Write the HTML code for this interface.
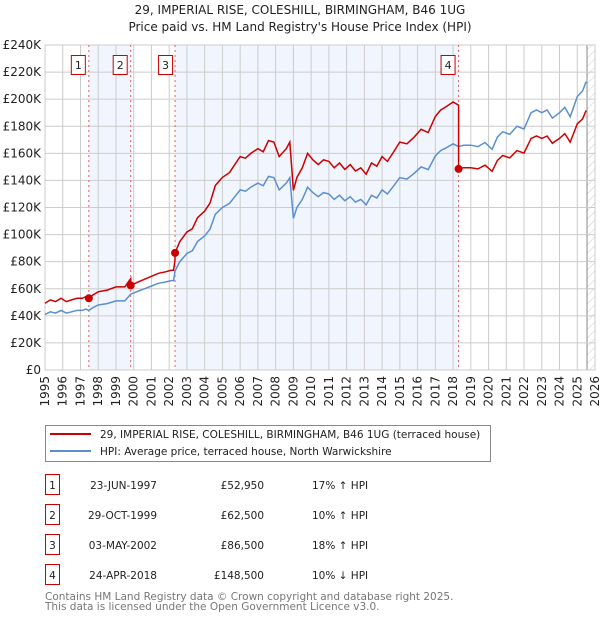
<!DOCTYPE html>
<html><head><meta charset="utf-8"><style>
body{margin:0;background:#fff;width:600px;height:620px;overflow:hidden;font-family:"DejaVu Sans","Liberation Sans",sans-serif;}
svg{display:block}
</style></head><body>
<svg id="c" width="600" height="620">
<defs><pattern id="hatch" width="6" height="6" patternUnits="userSpaceOnUse" patternTransform="rotate(45)"><line x1="0" y1="0" x2="0" y2="6" stroke="#ccc" stroke-width="1"/></pattern></defs>
<text x="300" y="14" text-anchor="middle" font-size="12" fill="#222">29, IMPERIAL RISE, COLESHILL, BIRMINGHAM, B46 1UG</text>
<text x="300" y="31" text-anchor="middle" font-size="12" fill="#222">Price paid vs. HM Land Registry's House Price Index (HPI)</text>
<g id="plot"></g>
<g>
<rect x="45.5" y="425.5" width="445" height="36" fill="#fff" stroke="#888"/>
<line x1="50" y1="434" x2="91" y2="434" stroke="#cc0000" stroke-width="2"/>
<text x="100" y="438" font-size="10.5" fill="#222">29, IMPERIAL RISE, COLESHILL, BIRMINGHAM, B46 1UG (terraced house)</text>
<line x1="50" y1="451" x2="91" y2="451" stroke="#5b8fd0" stroke-width="2"/>
<text x="100" y="455" font-size="10.5" fill="#222">HPI: Average price, terraced house, North Warwickshire</text>
</g>
<g id="table" font-size="10.5" fill="#222"></g>
<text x="45" y="600" font-size="10.5" fill="#777">Contains HM Land Registry data © Crown copyright and database right 2025.</text>
<text x="45" y="610" font-size="10.5" fill="#777">This data is licensed under the Open Government Licence v3.0.</text>
</svg>
<script>
const hpiDates=[1995,1995.3,1995.6,1995.9,1996.2,1996.5,1996.8,1997.1,1997.3,1997.47,1997.7,1998,1998.5,1999,1999.5,1999.83,2000.2,2000.6,2001,2001.4,2001.8,2002.1,2002.25,2002.33,2002.6,2003,2003.3,2003.6,2004,2004.3,2004.6,2005,2005.4,2005.7,2006,2006.3,2006.6,2007,2007.3,2007.6,2007.9,2008.2,2008.6,2008.8,2009.0,2009.2,2009.5,2009.8,2010.1,2010.4,2010.7,2011,2011.3,2011.6,2011.9,2012.2,2012.5,2012.8,2013.1,2013.4,2013.7,2014,2014.3,2014.6,2015,2015.4,2015.8,2016.2,2016.6,2017,2017.3,2017.6,2018,2018.31,2018.6,2019,2019.4,2019.8,2020.2,2020.5,2020.8,2021.2,2021.6,2022,2022.4,2022.7,2023,2023.3,2023.6,2024,2024.3,2024.6,2025,2025.3,2025.5];
const hpiValues=[41,43,42,44,42,43,44,44,45,44,46,48,49,51,51,56,58,60,62,64,65,66,66,73,80,86,88,95,99,104,115,120,123,128,133,132,135,138,136,143,142,133,138,142,112,120,126,135,131,128,131,130,126,129,125,128,124,126,122,129,127,133,130,135,142,141,145,150,148,158,162,164,167,165,166,166,165,168,163,172,176,174,180,178,190,192,190,192,186,190,194,187,202,206,213];
const saleDates=[1997.47,1999.83,2002.33,2018.31];
const salePrices=[52950,62500,86500,148500];
const saleLabels=["23-JUN-1997","29-OCT-1999","03-MAY-2002","24-APR-2018"];
const salePriceText=["£52,950","£62,500","£86,500","£148,500"];
const saleDiffText=["17% ↑ HPI","10% ↑ HPI","18% ↑ HPI","10% ↓ HPI"];
const yTicks=[0,20,40,60,80,100,120,140,160,180,200,220,240];
const xYears=[];for(let y=1995;y<=2026;y++)xYears.push(y);

const L=45,R=595,T=45,B=370;
const xs=t=>L+(t-1995)/31*(R-L);
const ys=v=>B-v/240*(B-T);
const NS="http://www.w3.org/2000/svg";
const plot=document.getElementById('plot');
function mk(tag,at,parent){const e=document.createElementNS(NS,tag);for(const k in at)e.setAttribute(k,at[k]);(parent||plot).appendChild(e);return e;}
function hpiAt(t){for(let i=0;i<hpiDates.length-1;i++){if(t>=hpiDates[i]&&t<=hpiDates[i+1]){const f=(t-hpiDates[i])/(hpiDates[i+1]-hpiDates[i]);return hpiValues[i]+f*(hpiValues[i+1]-hpiValues[i]);}}return hpiValues[hpiValues.length-1];}

const bands=[[saleDates[0],saleDates[1]],[saleDates[2],saleDates[3]]];
bands.forEach((b,i)=>{const r=mk('rect',{x:xs(b[0]),y:T,width:xs(b[1])-xs(b[0]),height:B-T,fill:'#eef3fc',opacity:0.8});

});
const hr=mk('rect',{x:xs(2025.55),y:T,width:R-xs(2025.55),height:B-T,fill:'url(#hatch)'});


mk('line',{x1:xs(2025.55),y1:T,x2:xs(2025.55),y2:B,stroke:'#888'});
yTicks.forEach(v=>{mk('line',{x1:L,y1:ys(v),x2:R,y2:ys(v),stroke:'#ccc'});
const t=mk('text',{x:L-4,y:ys(v)+4,'text-anchor':'end','font-size':12,fill:'#222'});t.textContent=v===0?'£0':'£'+v+'K';

});
xYears.forEach(y=>{mk('line',{x1:xs(y),y1:T,x2:xs(y),y2:B,stroke:'#ccc'});
const x=xs(y)+4,yy=376;
const t=mk('text',{x:x,y:yy,'text-anchor':'end','font-size':12,fill:'#222',transform:`rotate(-90 ${x} ${yy})`});t.textContent=y;

});
mk('rect',{x:L,y:T,width:R-L,height:B-T,fill:'none',stroke:'#ccc'});
saleDates.forEach((d,i)=>{mk('line',{x1:xs(d),y1:T,x2:xs(d),y2:B,stroke:'#e06060','stroke-dasharray':'2,3'});});
const hp=mk('path',{d:hpiDates.map((d,i)=>(i?'L':'M')+xs(d).toFixed(1)+','+ys(hpiValues[i]).toFixed(1)).join(''),fill:'none',stroke:'#5b8fd0','stroke-width':1.5});


const ratios=saleDates.map((d,i)=>salePrices[i]/1000/hpiAt(d));
let pd='';
hpiDates.forEach((d,i)=>{let k=0;for(let j=0;j<saleDates.length;j++)if(d>=saleDates[j])k=j;
if(i>0){const prev=hpiDates[i-1];saleDates.forEach((s,j)=>{if(s>prev&&s<=d&&j>0){pd+='L'+xs(s).toFixed(1)+','+ys(hpiAt(s)*ratios[j-1]).toFixed(1);}});}
pd+=(pd?'L':'M')+xs(d).toFixed(1)+','+ys(hpiValues[i]*ratios[k]).toFixed(1);});
const pp=mk('path',{d:pd,fill:'none',stroke:'#cc0000','stroke-width':1.5});


saleDates.forEach((d,i)=>{const c=mk('circle',{cx:xs(d),cy:ys(salePrices[i]/1000),r:4,fill:'#cc0000'});


const off=[-3,-3,-2,-3][i];
const bx=xs(d)+off-15;
const g=mk('g',{});


mk('rect',{x:bx+0.5,y:55.5,width:14,height:19,fill:'#fff',stroke:'#cc0000'},g);
const t=mk('text',{x:bx+7.5,y:69,'text-anchor':'middle','font-size':11,fill:'#222'},g);t.textContent=i+1;});
const tb=document.getElementById('table');
saleDates.forEach((d,i)=>{const y=485+i*30;
const g=mk('g',{},tb);


mk('rect',{x:45.5,y:y-10.5,width:14,height:20,fill:'#fff',stroke:'#cc0000'},g);
let t=mk('text',{x:52.5,y:y+4,'text-anchor':'middle'},g);t.textContent=i+1;
t=mk('text',{x:157,y:y+4,'text-anchor':'end'},g);t.textContent=saleLabels[i];
t=mk('text',{x:264,y:y+4,'text-anchor':'end'},g);t.textContent=salePriceText[i];
t=mk('text',{x:312,y:y+4},g);t.textContent=saleDiffText[i];});
</script>
</body></html>
